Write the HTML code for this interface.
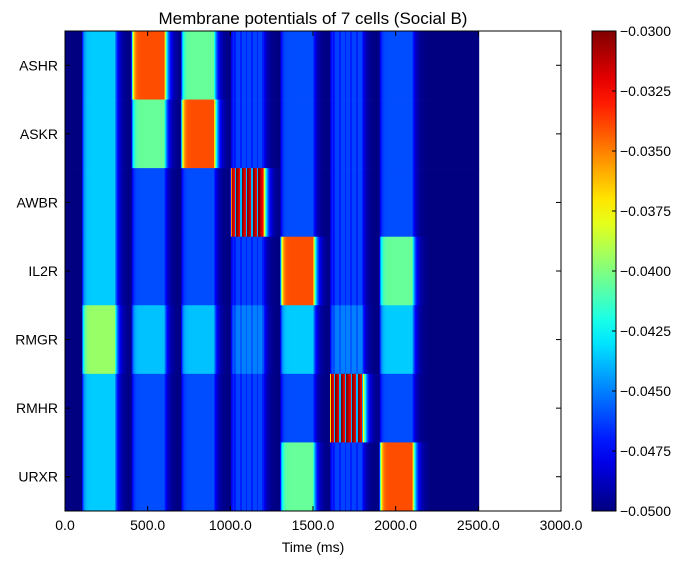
<!DOCTYPE html>
<html><head><meta charset="utf-8"><style>
body{margin:0;background:#fff;width:700px;height:564px;overflow:hidden;font-family:"Liberation Sans",sans-serif}
svg text{font-family:"Liberation Sans",sans-serif;fill:#000}
</style></head><body>
<svg id="chart" width="700" height="564" xmlns="http://www.w3.org/2000/svg">
<text x="313" y="24" font-size="17" text-anchor="middle">Membrane potentials of 7 cells (Social B)</text>
<g id="heat"></g>
<g id="axes"></g>
<text x="313" y="552" font-size="14" text-anchor="middle">Time (ms)</text>
<defs><linearGradient id="cbg" x1="0" y1="1" x2="0" y2="0"></linearGradient></defs>
<rect x="592" y="31" width="24" height="480" fill="url(#cbg)" stroke="#000" stroke-width="1"></rect>
<g id="cbaxis"></g>
</svg>
<script>
const cells = ["ASHR","ASKR","AWBR","IL2R","RMGR","RMHR","URXR"];
const pulseStart = [100,400,700,1000,1300,1600,1900];
const pulseEnd   = [300,600,900,1200,1500,1800,2100];
// target potential per cell per pulse (V)
const ASHR = [-0.0435,-0.0340,-0.0405,-0.0462,-0.0460,-0.0462,-0.0460];
const ASKR = [-0.0435,-0.0405,-0.0340,-0.0462,-0.0460,-0.0462,-0.0460];
const AWBR = [-0.0435,-0.0460,-0.0460,-0.0300,-0.0460,-0.0462,-0.0460];
const IL2R = [-0.0435,-0.0460,-0.0460,-0.0462,-0.0340,-0.0462,-0.0405];
const RMGR = [-0.0395,-0.0437,-0.0437,-0.0450,-0.0435,-0.0450,-0.0435];
const RMHR = [-0.0435,-0.0460,-0.0460,-0.0462,-0.0460,-0.0300,-0.0460];
const URXR = [-0.0435,-0.0460,-0.0460,-0.0462,-0.0405,-0.0462,-0.0340];
const rows = [ASHR,ASKR,AWBR,IL2R,RMGR,RMHR,URXR];
const oscillating = [false,false,false,true,false,true,false];
const xTicks = [0,500,1000,1500,2000,2500,3000];
const cbTicks = [-0.05,-0.0475,-0.045,-0.0425,-0.04,-0.0375,-0.035,-0.0325,-0.03];
const simEnd = 2500, vMin=-0.05, vMax=-0.03;

const L=65,R=561,T=31,B=511;
const xs = t => L + (t/3000)*(R-L);
const rowH = (B-T)/cells.length;
function jet(x){x=Math.max(0,Math.min(1,x));const c=v=>Math.round(255*Math.max(0,Math.min(1,v)));
 return `rgb(${c(1.5-Math.abs(4*x-3))},${c(1.5-Math.abs(4*x-2))},${c(1.5-Math.abs(4*x-1))})`;}
function val(r,t){
 let v=vMin;
 for(let p=0;p<pulseStart.length;p++){
  const s=pulseStart[p],e=pulseEnd[p],tgt=rows[r][p];
  const tr=10, td=22;
  let a=0;
  if(t>=s&&t<e) a=1-Math.exp(-(t-s)/tr);
  else if(t>=e) a=(1-Math.exp(-(e-s)/tr))*Math.exp(-(t-e)/td);
  let target=tgt;
  if(oscillating[p]&&t>=s&&t<e){
   const ph=((t-s)%34)/34;
   if(tgt>-0.035) target = ph<0.75 ? -0.0295-0.004*ph : -0.044;
   else target = tgt - (ph<0.7?0:0.0007);
  }
  if(t>=s&&t<e){
   const aa = (oscillating[p]&&tgt>-0.035) ? Math.min(1,a*1.5) : a;
   v=vMin+(target-vMin)*aa;
  } else if(a>0.01) v=Math.max(v,vMin+(tgt-vMin)*a*(oscillating[p]?0.8:1));
 }
 return v;
}
const heat=document.getElementById('heat');
const NS="http://www.w3.org/2000/svg";
for(let r=0;r<cells.length;r++){
 const g=document.createElementNS(NS,'g');
 
 
 for(let px=L;px<xs(simEnd);px++){
  const t=(px+0.5-L)/(R-L)*3000;
  const rc=document.createElementNS(NS,'rect');
  rc.setAttribute('x',px);rc.setAttribute('y',T+r*rowH);
  rc.setAttribute('width',1.2);rc.setAttribute('height',rowH+0.3);
  rc.setAttribute('fill',jet((val(r,t)-vMin)/(vMax-vMin)));
  g.appendChild(rc);
 }
 heat.appendChild(g);
}
const ax=document.getElementById('axes');
let h=`<rect x="${L}" y="${T}" width="${R-L}" height="${B-T}" fill="none" stroke="#000"/>`;
xTicks.forEach(v=>{const x=xs(v);h+=`<line x1="${x}" x2="${x}" y1="${B}" y2="${B-5}" stroke="#000"/><line x1="${x}" x2="${x}" y1="${T}" y2="${T+5}" stroke="#000"/><text x="${x}" y="${B+19}" font-size="14" text-anchor="middle">${v.toFixed(1)}</text>`;});
cells.forEach((c,i)=>{const y=T+rowH*(i+0.5);h+=`<line x1="${L}" x2="${L+5}" y1="${y}" y2="${y}" stroke="#000"/><line x1="${R}" x2="${R-5}" y1="${y}" y2="${y}" stroke="#000"/><text x="${L-7}" y="${y+5}" font-size="14" text-anchor="end">${c}</text>`;});
ax.innerHTML=h;
const grad=document.getElementById('cbg');
for(let i=0;i<=20;i++){const s=document.createElementNS(NS,'stop');s.setAttribute('offset',i/20);s.setAttribute('stop-color',jet(i/20));grad.appendChild(s);}
let cb='';
cbTicks.forEach(v=>{const y=B-(v-vMin)/(vMax-vMin)*(B-T);cb+=`<line x1="612" x2="616" y1="${y}" y2="${y}" stroke="#000"/><text x="620" y="${y+5}" font-size="14">${v.toFixed(4).replace('-','\u2212')}</text>`;});
document.getElementById('cbaxis').innerHTML=cb;
</script>
</body></html>
